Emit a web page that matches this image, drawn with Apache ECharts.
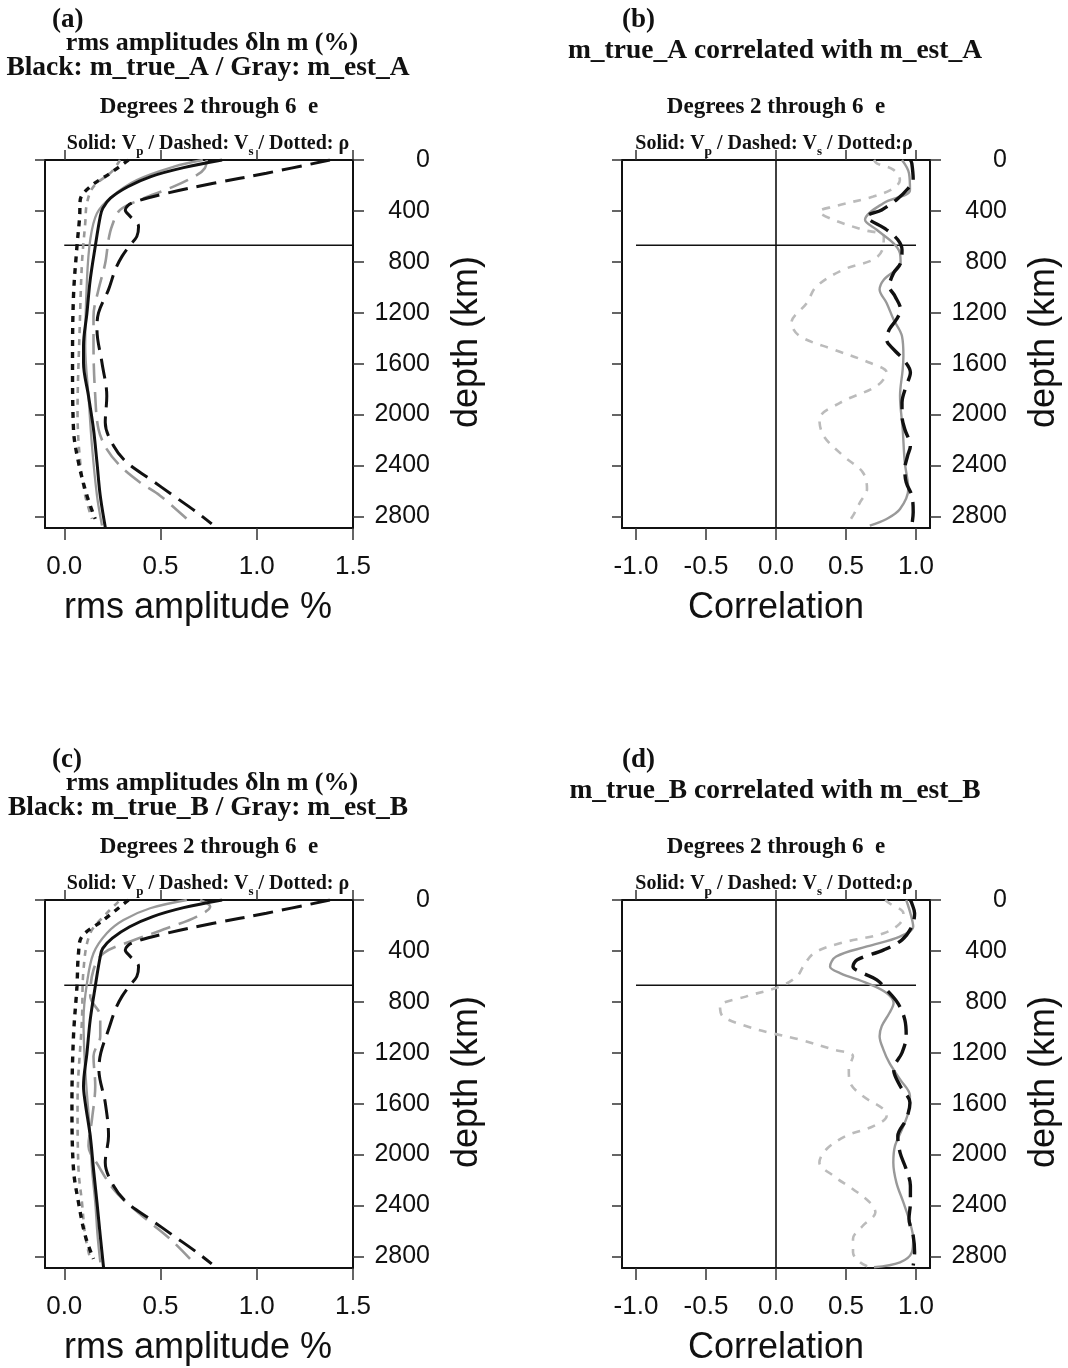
<!DOCTYPE html>
<html>
<head>
<meta charset="utf-8">
<script src="https://cdn.jsdelivr.net/npm/echarts@6/dist/echarts.min.js"></script>
<style>
html,body{margin:0;padding:0;background:#fff;}
#chart{width:1068px;height:1368px;}
</style>
</head>
<body>
<div id="chart"></div>
<script>
// ---------- data (value, depth km) ----------
const DEPTH_TICKS = [0, 400, 800, 1200, 1600, 2000, 2400, 2800];
const RMS_TICKS = [0.0, 0.5, 1.0, 1.5];
const CORR_TICKS = [-1.0, -0.5, 0.0, 0.5, 1.0];
const CMB_DEPTH = 2891;
const DISCONTINUITY = 670;

// panel (a): rms amplitudes, model A
const A_VP_TRUE = [[0.82,0],[0.62,60],[0.45,130],[0.33,210],[0.24,300],[0.2,380],[0.187,444],[0.161,679],[0.135,940],[0.118,1201],[0.10,1462],[0.10,1593],[0.126,1854],[0.152,2115],[0.17,2376],[0.187,2637],[0.213,2885]];
const A_VP_EST = [[0.72,0],[0.57,52],[0.377,157],[0.247,287],[0.17,418],[0.135,627],[0.118,940],[0.109,1462],[0.126,1854],[0.144,2245],[0.17,2637],[0.196,2872]];
const A_VS_TRUE = [[1.38,0],[1.05,104],[0.775,183],[0.533,261],[0.351,339],[0.317,392],[0.343,444],[0.386,522],[0.377,601],[0.343,666],[0.30,757],[0.265,862],[0.23,1018],[0.178,1201],[0.17,1332],[0.196,1593],[0.221,1854],[0.213,2063],[0.256,2245],[0.325,2376],[0.446,2507],[0.567,2637],[0.689,2768],[0.766,2859]];
const A_VS_EST = [[0.74,0],[0.73,65],[0.69,117],[0.567,209],[0.394,313],[0.29,392],[0.247,522],[0.23,627],[0.213,810],[0.178,1018],[0.152,1227],[0.152,1462],[0.161,1854],[0.178,2115],[0.221,2272],[0.29,2402],[0.394,2533],[0.498,2637],[0.637,2820]];
const A_RHO_TRUE = [[0.334,0],[0.239,104],[0.135,209],[0.083,313],[0.08,444],[0.066,679],[0.048,1070],[0.043,1593],[0.048,2115],[0.074,2376],[0.118,2637],[0.161,2820]];
const A_RHO_EST = [[0.29,0],[0.247,91],[0.152,209],[0.118,339],[0.109,496],[0.092,810],[0.08,1332],[0.069,1984],[0.083,2376],[0.109,2637],[0.144,2820]];

// panel (b): correlation, model A
const B_VP = [[0.90,0],[0.95,104],[0.957,235],[0.767,339],[0.636,470],[0.719,548],[0.838,653],[0.885,731],[0.89,810],[0.77,940],[0.74,1018],[0.79,1123],[0.84,1253],[0.90,1384],[0.91,1540],[0.905,1645],[0.886,1854],[0.905,2115],[0.92,2376],[0.945,2585],[0.886,2742],[0.79,2820],[0.67,2872]];
const B_VS = [[0.96,0],[0.97,26],[0.98,157],[0.945,222],[0.86,313],[0.755,392],[0.65,444],[0.79,548],[0.87,627],[0.90,705],[0.89,810],[0.84,888],[0.81,992],[0.85,1070],[0.89,1175],[0.86,1253],[0.81,1330],[0.79,1410],[0.84,1488],[0.91,1567],[0.96,1670],[0.93,1775],[0.90,1906],[0.90,2010],[0.92,2115],[0.96,2245],[0.94,2324],[0.92,2428],[0.93,2533],[0.97,2637],[0.98,2768],[0.97,2872]];
const B_RHO = [[0.70,0],[0.72,26],[0.84,78],[0.885,157],[0.84,222],[0.695,287],[0.41,366],[0.31,405],[0.41,470],[0.62,548],[0.77,600],[0.76,705],[0.695,783],[0.48,862],[0.29,992],[0.22,1123],[0.11,1280],[0.17,1384],[0.41,1488],[0.67,1593],[0.79,1670],[0.72,1775],[0.46,1906],[0.31,2036],[0.34,2167],[0.48,2324],[0.62,2454],[0.65,2585],[0.60,2690],[0.55,2794],[0.50,2872]];

// panel (c): rms amplitudes, model B
const C_VP_TRUE = [[0.82,0],[0.62,60],[0.46,130],[0.34,210],[0.25,300],[0.2,380],[0.187,444],[0.161,679],[0.135,940],[0.118,1201],[0.10,1462],[0.109,1593],[0.135,1854],[0.152,2115],[0.17,2376],[0.187,2637],[0.204,2885]];
const C_VP_EST = [[0.637,0],[0.446,65],[0.308,157],[0.221,261],[0.152,418],[0.118,653],[0.10,940],[0.109,1332],[0.135,1854],[0.144,2115],[0.161,2376],[0.173,2637],[0.187,2846]];
const C_VS_TRUE = [[1.38,0],[1.05,104],[0.775,183],[0.533,261],[0.351,339],[0.317,392],[0.343,444],[0.386,522],[0.377,601],[0.343,666],[0.30,757],[0.265,862],[0.23,1018],[0.19,1201],[0.18,1332],[0.213,1593],[0.23,1854],[0.213,2063],[0.256,2245],[0.325,2376],[0.446,2507],[0.567,2637],[0.689,2768],[0.766,2859]];
const C_VS_EST = [[0.706,0],[0.758,52],[0.689,130],[0.533,222],[0.343,326],[0.204,418],[0.152,548],[0.135,757],[0.187,914],[0.187,1070],[0.152,1227],[0.161,1462],[0.144,1723],[0.126,1932],[0.178,2089],[0.256,2272],[0.343,2402],[0.446,2533],[0.55,2663],[0.654,2820]];
const C_RHO_TRUE = [[0.334,0],[0.204,157],[0.092,287],[0.074,418],[0.066,679],[0.048,1070],[0.04,1593],[0.048,2115],[0.074,2376],[0.109,2637],[0.152,2820]];
const C_RHO_EST = [[0.282,13],[0.221,104],[0.135,261],[0.10,548],[0.092,940],[0.069,1593],[0.074,2115],[0.092,2376],[0.109,2637],[0.135,2820]];

// panel (d): correlation, model B
const D_VP = [[0.93,0],[0.96,104],[0.98,209],[0.885,287],[0.65,365],[0.43,444],[0.386,522],[0.457,574],[0.65,653],[0.79,731],[0.84,810],[0.81,888],[0.755,992],[0.74,1070],[0.767,1175],[0.81,1280],[0.886,1410],[0.957,1540],[0.945,1670],[0.90,1802],[0.85,1932],[0.838,2062],[0.86,2220],[0.91,2376],[0.957,2533],[0.98,2663],[0.97,2768],[0.886,2846],[0.70,2885]];
const D_VS = [[0.96,0],[0.97,26],[0.99,104],[0.97,209],[0.90,313],[0.77,392],[0.58,470],[0.55,522],[0.62,574],[0.72,627],[0.79,705],[0.87,810],[0.92,940],[0.93,1070],[0.90,1200],[0.84,1330],[0.886,1460],[0.957,1593],[0.93,1723],[0.87,1854],[0.886,1984],[0.93,2115],[0.96,2245],[0.96,2376],[0.95,2507],[0.98,2637],[0.99,2768],[0.98,2872]];
const D_RHO = [[0.78,0],[0.81,26],[0.91,104],[0.886,183],[0.77,261],[0.457,340],[0.27,418],[0.195,522],[0.15,600],[0.03,679],[-0.21,757],[-0.40,836],[-0.38,914],[-0.21,992],[-0.04,1044],[0.17,1097],[0.41,1175],[0.55,1227],[0.52,1332],[0.53,1436],[0.62,1540],[0.77,1645],[0.79,1697],[0.70,1775],[0.50,1854],[0.36,1958],[0.31,2062],[0.41,2167],[0.55,2272],[0.67,2376],[0.71,2454],[0.62,2559],[0.55,2663],[0.55,2768],[0.60,2846],[0.67,2885]];

// ---------- layout ----------
const SERIF = '"Liberation Serif","Times New Roman",serif';
const SANS = '"Liberation Sans",Arial,Helvetica,sans-serif';
const BLACK = '#111';
const GRAY = '#999';
const LGRAY = '#bbb';

const panels = [
  {left:45, top:160, min:-0.1, max:1.5, ticks:RMS_TICKS, hline:[0,1.5], vline:false},
  {left:622, top:160, min:-1.1, max:1.1, ticks:CORR_TICKS, hline:[-1,1], vline:true},
  {left:45, top:900, min:-0.1, max:1.5, ticks:RMS_TICKS, hline:[0,1.5], vline:false},
  {left:622, top:900, min:-1.1, max:1.1, ticks:CORR_TICKS, hline:[-1,1], vline:true}
];
const GW = 308, GH = 368;

const grids = [], xAxes = [], yAxes = [], series = [];
panels.forEach((p, i) => {
  grids.push({left:p.left, top:p.top, width:GW, height:GH, show:false});
  const axLine = {show:true, onZero:false, lineStyle:{color:BLACK, width:2}};
  xAxes.push({gridIndex:i, type:'value', position:'bottom', min:p.min, max:p.max,
    axisLine:axLine, splitLine:{show:false},
    axisTick:{show:true, customValues:p.ticks, length:12, lineStyle:{color:'#333', width:1.5}},
    axisLabel:{show:true, customValues:p.ticks, formatter:v=>v.toFixed(1), fontFamily:SANS, fontSize:26, color:BLACK, margin:26}});
  xAxes.push({gridIndex:i, type:'value', position:'top', min:p.min, max:p.max,
    axisLine:axLine, splitLine:{show:false},
    axisTick:{show:true, customValues:p.ticks, length:10, lineStyle:{color:'#333', width:1.5}},
    axisLabel:{show:false}});
  yAxes.push({gridIndex:i, type:'value', position:'right', inverse:true, min:0, max:CMB_DEPTH,
    axisLine:axLine, splitLine:{show:false},
    axisTick:{show:true, customValues:DEPTH_TICKS, length:11, lineStyle:{color:'#333', width:1.5}},
    axisLabel:{show:true, customValues:DEPTH_TICKS, formatter:v=>String(v), align:'right', margin:77, fontFamily:SANS, fontSize:25, color:BLACK}});
  yAxes.push({gridIndex:i, type:'value', position:'left', inverse:true, min:0, max:CMB_DEPTH,
    axisLine:axLine, splitLine:{show:false},
    axisTick:{show:true, customValues:DEPTH_TICKS, length:10, lineStyle:{color:'#333', width:1.5}},
    axisLabel:{show:false}});
  // reference lines
  series.push({type:'line', xAxisIndex:2*i, yAxisIndex:2*i, data:[[p.hline[0],DISCONTINUITY],[p.hline[1],DISCONTINUITY]],
    showSymbol:false, silent:true, lineStyle:{color:BLACK, width:1.6}, z:1});
  if (p.vline) series.push({type:'line', xAxisIndex:2*i, yAxisIndex:2*i, data:[[0,0],[0,CMB_DEPTH]],
    showSymbol:false, silent:true, lineStyle:{color:BLACK, width:1.6}, z:1});
});

function curve(data, i, color, width, type, z) {
  series.push({type:'line', xAxisIndex:2*i, yAxisIndex:2*i, data:data, showSymbol:false, smooth:0.35,
    silent:true, lineStyle:{color:color, width:width, type:type, cap:'butt'}, z:z});
}
const DASH = [20, 9], DOT = [6, 6], LDOT = [8, 8];
// (a)
curve(A_RHO_EST, 0, GRAY, 2.6, DOT, 2);
curve(A_VS_EST, 0, GRAY, 2.6, DASH, 2);
curve(A_VP_EST, 0, GRAY, 2.3, 'solid', 2);
curve(A_RHO_TRUE, 0, BLACK, 3.4, DOT, 3);
curve(A_VS_TRUE, 0, BLACK, 3.0, DASH, 3);
curve(A_VP_TRUE, 0, BLACK, 3.0, 'solid', 3);
// (b)
curve(B_RHO, 1, LGRAY, 2.6, LDOT, 2);
curve(B_VP, 1, GRAY, 2.4, 'solid', 3);
curve(B_VS, 1, BLACK, 3.4, DASH, 4);
// (c)
curve(C_RHO_EST, 2, GRAY, 2.6, DOT, 2);
curve(C_VS_EST, 2, GRAY, 2.6, DASH, 2);
curve(C_VP_EST, 2, GRAY, 2.3, 'solid', 2);
curve(C_RHO_TRUE, 2, BLACK, 3.4, DOT, 3);
curve(C_VS_TRUE, 2, BLACK, 3.0, DASH, 3);
curve(C_VP_TRUE, 2, BLACK, 3.0, 'solid', 3);
// (d)
curve(D_RHO, 3, LGRAY, 2.6, LDOT, 2);
curve(D_VP, 3, GRAY, 2.4, 'solid', 3);
curve(D_VS, 3, BLACK, 3.4, DASH, 4);

// ---------- texts ----------
const graphics = [];
function txt(x, y, text, font, size, opts) {
  opts = opts || {};
  graphics.push({type:'text', x:x, y:y, rotation:opts.rot || 0, silent:true, z:10,
    style:{text:text, fill:BLACK, fontFamily:font, fontSize:size, fontWeight:opts.bold ? 'bold' : 'normal',
      align:opts.align || 'center', verticalAlign:'middle', rich:opts.rich}});
}
const subRich = {
  n:{fontFamily:SERIF, fontWeight:'bold', fontSize:20, lineHeight:29, verticalAlign:'middle'},
  s:{fontFamily:SERIF, fontWeight:'bold', fontSize:13, lineHeight:13, verticalAlign:'bottom'}
};
const legendA = '{n|Solid: V}{s|p}{n| / Dashed: V}{s|s}{n| / Dotted: ρ}';
const legendB = '{n|Solid: V}{s|p}{n| / Dashed: V}{s|s}{n| / Dotted:ρ}';

[0, 740].forEach((dy, k) => {
  const tag = k === 0 ? 'A' : 'B';
  // left panel
  txt(52, 20 + dy, k === 0 ? '(a)' : '(c)', SERIF, 27, {bold:true, align:'left'});
  txt(212, 43 + dy, 'rms amplitudes δln m (%)', SERIF, 26, {bold:true});
  txt(208, 68 + dy, 'Black: m_true_' + tag + ' / Gray: m_est_' + tag, SERIF, 27.5, {bold:true});
  txt(209, 107 + dy, 'Degrees 2 through 6  e', SERIF, 23, {bold:true});
  txt(208, 144 + dy, legendA, SERIF, 20, {rich:subRich});
  txt(198, 608 + dy, 'rms amplitude %', SANS, 36);
  txt(467, 342 + dy, 'depth (km)', SANS, 36, {rot:Math.PI/2});
  // right panel
  txt(622, 20 + dy, k === 0 ? '(b)' : '(d)', SERIF, 27, {bold:true, align:'left'});
  txt(775, 51 + dy, 'm_true_' + tag + ' correlated with m_est_' + tag, SERIF, 27.5, {bold:true});
  txt(776, 107 + dy, 'Degrees 2 through 6  e', SERIF, 23, {bold:true});
  txt(774, 144 + dy, legendB, SERIF, 20, {rich:subRich});
  txt(776, 608 + dy, 'Correlation', SANS, 36);
  txt(1044, 342 + dy, 'depth (km)', SANS, 36, {rot:Math.PI/2});
});

const chart = echarts.init(document.getElementById('chart'), null, {renderer:'canvas'});
chart.setOption({
  animation:false,
  backgroundColor:'#fff',
  grid:grids, xAxis:xAxes, yAxis:yAxes, series:series, graphic:graphics
});
</script>
</body>
</html>
